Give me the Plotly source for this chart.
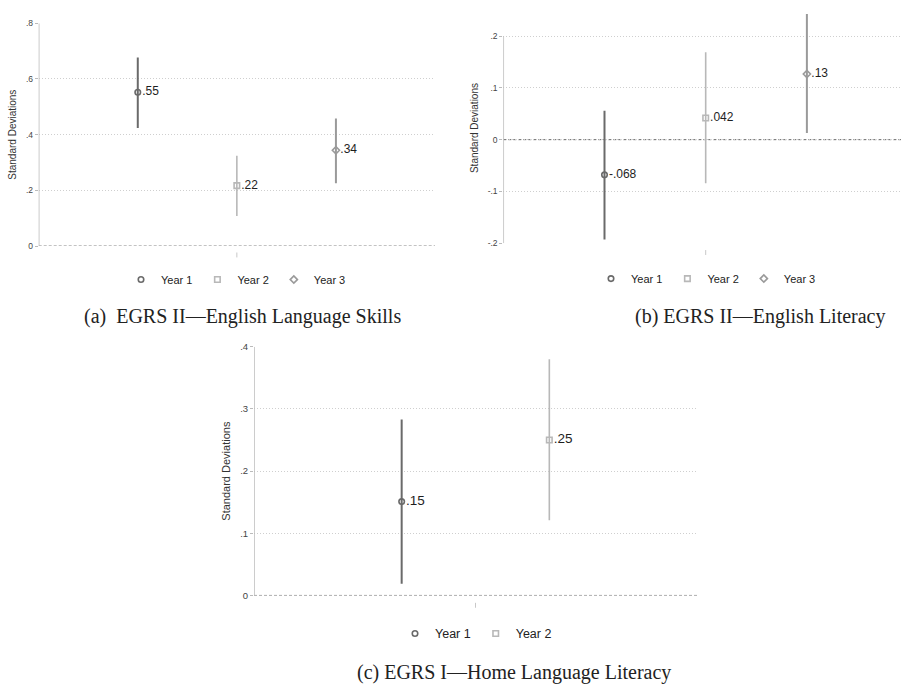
import plotly.graph_objects as go

# ---------------- data ----------------
years = ["Year 1", "Year 2", "Year 3"]

# (a) EGRS II - English Language Skills
a_est = [0.552, 0.217, 0.344]
a_lo = [0.424, 0.108, 0.226]
a_hi = [0.677, 0.324, 0.458]
a_lab = [".55", ".22", ".34"]

# (b) EGRS II - English Literacy
b_est = [-0.068, 0.042, 0.127]
b_lo = [-0.193, -0.084, 0.013]
b_hi = [0.056, 0.169, 0.243]
b_lab = ["-.068", ".042", ".13"]

# (c) EGRS I - Home Language Literacy
c_est = [0.151, 0.250]
c_lo = [0.019, 0.121]
c_hi = [0.283, 0.380]
c_lab = [".15", ".25"]

a_ticks = [0, 0.2, 0.4, 0.6, 0.8]
a_ticktext = ["0", ".2", ".4", ".6", ".8"]
b_ticks = [-0.2, -0.1, 0, 0.1, 0.2]
b_ticktext = ["-.2", "-.1", "0", ".1", ".2"]
c_ticks = [0, 0.1, 0.2, 0.3, 0.4]
c_ticktext = ["0", ".1", ".2", ".3", ".4"]

captions = ["(a)  EGRS II\u2014English Language Skills",
            "(b) EGRS II\u2014English Literacy",
            "(c) EGRS I\u2014Home Language Literacy"]

# ---------------- styles ----------------
colors = ["#6a6a6a", "#b8b8b8", "#9a9a9a"]
symbols = ["circle-open", "square-open", "diamond-open"]
lwidths = [2, 1.6, 2]
SANS = "Liberation Sans, Arial, sans-serif"
SERIF = "Liberation Serif, Times New Roman, serif"

W, H = 901, 690

def px(x):
    return x / W

def py(y):
    return 1 - y / H

fig = go.Figure()

panels = [
    dict(est=a_est, lo=a_lo, hi=a_hi, lab=a_lab, xa="x", ya="y", legend="legend", fs=12),
    dict(est=b_est, lo=b_lo, hi=b_hi, lab=b_lab, xa="x2", ya="y2", legend="legend2", fs=12),
    dict(est=c_est, lo=c_lo, hi=c_hi, lab=c_lab, xa="x3", ya="y3", legend="legend3", fs=13.5),
]

for p in panels:
    for i, v in enumerate(p["est"]):
        fig.add_trace(go.Scatter(
            x=[i + 1], y=[v],
            mode="markers+text",
            name=years[i],
            text=[p["lab"][i]],
            textposition="middle right",
            textfont=dict(family=SANS, size=p["fs"], color="#1e1e1e"),
            marker=dict(symbol=symbols[i], size=5.5, color=colors[i],
                        line=dict(width=1.6, color=colors[i])),
            error_y=dict(type="data", symmetric=False,
                         array=[p["hi"][i] - v], arrayminus=[v - p["lo"][i]],
                         width=0, thickness=lwidths[i], color=colors[i]),
            xaxis=p["xa"], yaxis=p["ya"], legend=p["legend"],
            cliponaxis=False,
        ))

def yaxis_style(ticks, ticktext, rng, domain, tfs, afs, anchor):
    return dict(
        domain=domain, range=rng, anchor=anchor,
        tickmode="array", tickvals=ticks, ticktext=ticktext,
        tickfont=dict(family=SANS, size=tfs, color="#444444"),
        ticks="outside", ticklen=3, tickcolor="#bbbbbb", tickwidth=1,
        showline=False, zeroline=False,
        showgrid=True, gridcolor="#cfcfcf", griddash="1px,2px", gridwidth=1,
        title=dict(text="Standard Deviations",
                   font=dict(family=SANS, size=afs, color="#333333"), standoff=7),
    )

def xaxis_style(rng, domain, anchor):
    return dict(domain=domain, range=rng, anchor=anchor, showgrid=False,
                zeroline=False, showline=False, showticklabels=False, ticks="")

# domains from pixel geometry
xa_dom = [px(38.7), px(435)]
ya_dom = [py(244), py(17.5)]
xb_dom = [px(503.3), 1.0]
yb_dom = [py(241), py(7.0)]
xc_dom = [px(254), px(697)]
yc_dom = [py(599), py(346.3)]

fig.update_layout(
    width=W, height=H,
    margin=dict(l=0, r=0, t=0, b=0),
    paper_bgcolor="white", plot_bgcolor="white",
    xaxis=xaxis_style([0, 4], xa_dom, "y"),
    yaxis=yaxis_style(a_ticks, a_ticktext, [0, 0.8], ya_dom, 8.5, 10, "x"),
    xaxis2=xaxis_style([0, 3.93], xb_dom, "y2"),
    yaxis2=yaxis_style(b_ticks, b_ticktext, [-0.2, 0.245], yb_dom, 8.5, 10, "x2"),
    xaxis3=xaxis_style([0, 3], xc_dom, "y3"),
    yaxis3=yaxis_style(c_ticks, c_ticktext, [0, 0.4], yc_dom, 9.5, 11, "x3"),
    showlegend=True,
)

leg_common = dict(orientation="h", xanchor="center", yanchor="middle",
                  bgcolor="rgba(0,0,0,0)", itemwidth=30, traceorder="normal")
fig.update_layout(
    legend=dict(x=px(236), y=py(278), font=dict(family=SANS, size=11, color="#222222"), **leg_common),
    legend2=dict(x=px(706), y=py(277), font=dict(family=SANS, size=11, color="#222222"), **leg_common),
    legend3=dict(x=px(476), y=py(638), font=dict(family=SANS, size=12.5, color="#222222"), **leg_common),
)

# axis lines, zero lines and x tick marks
shape_specs = [
    ("x", "y", 0, 4, 0.8, 2, py(250.5), py(255.5)),
    ("x2", "y2", -0.2, 3.93, 0.2, 2, py(248), py(253)),
    ("x3", "y3", 0, 3, 0.4, 1.5, py(606.5), py(611.5)),
]
for xr, yr, ylo, xmax, yhi, xt, t0, t1 in shape_specs:
    fig.add_shape(type="line", xref=xr, yref=yr, x0=0, x1=0, y0=ylo, y1=yhi,
                  line=dict(color="#bbbbbb", width=1.5), layer="above")
    fig.add_shape(type="line", xref=xr, yref=yr, x0=0, x1=xmax, y0=0, y1=0,
                  line=dict(color="#666666", width=1, dash="3px,2px"), layer="below")
    fig.add_shape(type="line", xref=xr, yref="paper", x0=xt, x1=xt, y0=t0, y1=t1,
                  line=dict(color="#c8c8c8", width=1))

# captions
cap_pos = [(242, 316), (760, 316), (514, 677)]
for txt, (cx, cy) in zip(captions, cap_pos):
    fig.add_annotation(text=txt, x=px(cx), y=py(cy), xref="paper", yref="paper",
                       showarrow=False, xanchor="center", yanchor="middle",
                       font=dict(family=SERIF, size=20, color="#222222"))

fig.write_html("out.html")
